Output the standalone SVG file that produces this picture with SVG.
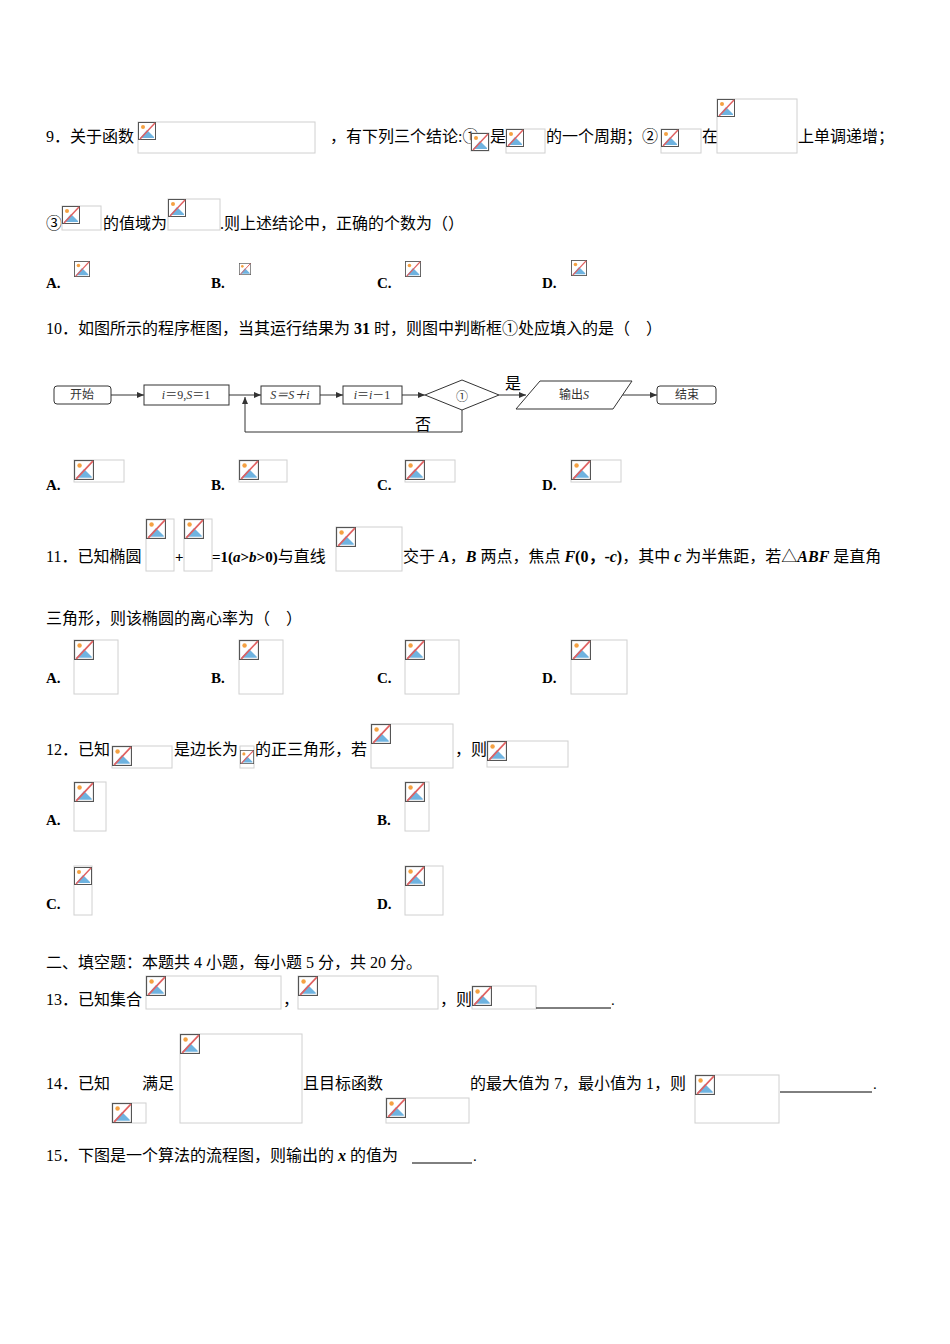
<svg xmlns="http://www.w3.org/2000/svg" xmlns:xlink="http://www.w3.org/1999/xlink" width="950" height="1344" viewBox="0 0 950 1344">
<style>
text{font-family:"Liberation Serif","Noto Sans CJK SC",serif;font-size:15px;fill:#000}
.c{font-family:"Liberation Serif","Noto Sans CJK SC",sans-serif;font-size:16px}
.b{font-weight:bold}
.box{fill:#fff;stroke:#d0d0d0;stroke-width:1}
.fl{fill:#fff;stroke:#333;stroke-width:1}
.ln{fill:none;stroke:#333;stroke-width:1}
.ft{font-family:"Liberation Serif","Noto Sans CJK SC",serif;font-size:12px;fill:#333}
</style>
<defs>
<symbol id="ic" viewBox="0 0 18 18">
<rect x="0.5" y="0.5" width="17" height="17" fill="#fff" stroke="#555"/>
<path d="M2 16 L9 8 L16 15 V16 Z" fill="#6fb3e0"/>
<circle cx="5" cy="5" r="2" fill="#f5a142"/>
<line x1="2" y1="17" x2="17" y2="1" stroke="#e06060" stroke-width="1.5"/>
</symbol>
<marker id="ar" markerWidth="8" markerHeight="8" refX="7" refY="3" orient="auto"><path d="M0 0 L7 3 L0 6Z" fill="#333"/></marker>
</defs>
<g id="q9">
<text x="46" y="142" class="c">9．关于函数</text>
<rect class="box" x="138" y="122" width="177" height="31"/><use href="#ic" x="138" y="122" width="18" height="18"/>
<text x="330" y="142" class="c">，有下列三个结论:①</text>
<rect class="box" x="471" y="133" width="18" height="18"/><use href="#ic" x="471" y="133" width="18" height="18"/>
<text x="490" y="142" class="c">是</text>
<rect class="box" x="506" y="129" width="39" height="24"/><use href="#ic" x="506" y="129" width="18" height="18"/>
<text x="546" y="142" class="c">的一个周期；②</text>
<rect class="box" x="661" y="129" width="40" height="24"/><use href="#ic" x="661" y="129" width="18" height="18"/>
<text x="702" y="142" class="c">在</text>
<rect class="box" x="717" y="99" width="80" height="54"/><use href="#ic" x="717" y="99" width="18" height="18"/>
<text x="798" y="142" class="c">上单调递增；</text>
<text x="46" y="229" class="c">③</text>
<rect class="box" x="62" y="206" width="39" height="24"/><use href="#ic" x="62" y="206" width="18" height="18"/>
<text x="103" y="229" class="c">的值域为</text>
<rect class="box" x="168" y="199" width="52" height="31"/><use href="#ic" x="168" y="199" width="18" height="18"/>
<text x="220" y="229" class="c">.则上述结论中，正确的个数为（）</text>
<text x="46" y="288" class="b">A.</text><use href="#ic" x="74" y="260" width="16" height="18"/>
<text x="211" y="288" class="b">B.</text><use href="#ic" x="239" y="260" width="12" height="18"/>
<text x="377" y="288" class="b">C.</text><use href="#ic" x="405" y="260" width="16" height="18"/>
<text x="542" y="288" class="b">D.</text><use href="#ic" x="571" y="258" width="16" height="20"/>
</g>
<g id="q10">
<text x="46" y="334" class="c">10．如图所示的程序框图，当其运行结果为 <tspan class="b">31</tspan> 时，则图中判断框①处应填入的是（　）</text>
</g>
<g id="connectors">
<line class="ln" x1="111" y1="395" x2="144" y2="395" marker-end="url(#ar)"/>
<line class="ln" x1="229" y1="395" x2="261" y2="395" marker-end="url(#ar)"/>
<line class="ln" x1="320" y1="395" x2="343" y2="395" marker-end="url(#ar)"/>
<line class="ln" x1="402" y1="395" x2="425" y2="395" marker-end="url(#ar)"/>
<line class="ln" x1="499" y1="395" x2="526" y2="395" marker-end="url(#ar)"/>
<line class="ln" x1="620" y1="395" x2="657" y2="395" marker-end="url(#ar)"/>
<polyline class="ln" points="462,410 462,432 245,432 245,397" marker-end="url(#ar)"/>
</g>
<g id="n-start"><rect class="fl" x="54" y="386" width="57" height="18" rx="3"/><text class="ft" x="82" y="399" text-anchor="middle">开始</text></g>
<g id="n-init"><rect class="fl" x="144" y="385" width="85" height="20"/><text class="ft" x="186" y="399" text-anchor="middle"><tspan font-style="italic">i</tspan>＝9,<tspan font-style="italic">S</tspan>＝1</text></g>
<g id="n-sum"><rect class="fl" x="261" y="386" width="59" height="18"/><text class="ft" x="290" y="399" text-anchor="middle" font-style="italic">S＝S＋i</text></g>
<g id="n-dec"><rect class="fl" x="343" y="386" width="59" height="18"/><text class="ft" x="372" y="399" text-anchor="middle"><tspan font-style="italic">i</tspan>＝<tspan font-style="italic">i</tspan>－1</text></g>
<g id="n-cond"><polygon class="fl" points="425,395 462,380 499,395 462,410"/><text class="ft" x="462" y="401" text-anchor="middle" font-size="16">①</text></g>
<g id="n-out"><polygon class="fl" points="540,381 632,381 613,409 516,409"/><text class="ft" x="574" y="399" text-anchor="middle" font-size="13">输出<tspan font-style="italic">S</tspan></text></g>
<g id="n-end"><rect class="fl" x="657" y="386" width="59" height="18" rx="3"/><text class="ft" x="687" y="399" text-anchor="middle" font-size="13">结束</text></g>
<text x="505" y="389" class="c" font-size="17">是</text>
<text x="415" y="430" class="c" font-size="17">否</text>
<g id="q10opt">
<text x="46" y="490" class="b">A.</text><rect class="box" x="74" y="460" width="50" height="22"/><use href="#ic" x="74" y="460" width="20" height="20"/>
<text x="211" y="490" class="b">B.</text><rect class="box" x="239" y="460" width="48" height="22"/><use href="#ic" x="239" y="460" width="20" height="20"/>
<text x="377" y="490" class="b">C.</text><rect class="box" x="405" y="460" width="50" height="22"/><use href="#ic" x="405" y="460" width="20" height="20"/>
<text x="542" y="490" class="b">D.</text><rect class="box" x="571" y="460" width="50" height="22"/><use href="#ic" x="571" y="460" width="20" height="20"/>
</g>
<g id="q11">
<text x="46" y="562" class="c">11．已知椭圆</text>
<rect class="box" x="146" y="519" width="28" height="52"/><use href="#ic" x="146" y="519" width="20" height="20"/>
<text x="175" y="562" class="b">+</text>
<rect class="box" x="184" y="519" width="28" height="52"/><use href="#ic" x="184" y="519" width="20" height="20"/>
<text x="212" y="562" class="b">=1(<tspan font-style="italic">a</tspan>&gt;<tspan font-style="italic">b</tspan>&gt;0)<tspan class="c" font-weight="normal">与直线</tspan></text>
<rect class="box" x="336" y="527" width="66" height="44"/><use href="#ic" x="336" y="527" width="20" height="20"/>
<text x="403" y="562" class="c">交于 <tspan class="b" font-style="italic">A</tspan>，<tspan class="b" font-style="italic">B</tspan> 两点，焦点 <tspan class="b"><tspan font-style="italic">F</tspan>(0，-<tspan font-style="italic">c</tspan>)</tspan>，其中 <tspan class="b" font-style="italic">c</tspan> 为半焦距，若△<tspan class="b" font-style="italic">ABF</tspan> 是直角</text>
<text x="46" y="624" class="c">三角形，则该椭圆的离心率为（　）</text>
<text x="46" y="683" class="b">A.</text><rect class="box" x="74" y="640" width="44" height="54"/><use href="#ic" x="74" y="640" width="20" height="20"/>
<text x="211" y="683" class="b">B.</text><rect class="box" x="239" y="640" width="44" height="54"/><use href="#ic" x="239" y="640" width="20" height="20"/>
<text x="377" y="683" class="b">C.</text><rect class="box" x="405" y="640" width="54" height="54"/><use href="#ic" x="405" y="640" width="20" height="20"/>
<text x="542" y="683" class="b">D.</text><rect class="box" x="571" y="640" width="56" height="54"/><use href="#ic" x="571" y="640" width="20" height="20"/>
</g>
<g id="q12">
<text x="46" y="755" class="c">12．已知</text>
<rect class="box" x="112" y="746" width="60" height="22"/><use href="#ic" x="112" y="746" width="20" height="20"/>
<text x="174" y="755" class="c">是边长为</text>
<rect class="box" x="240" y="746" width="14" height="22"/><use href="#ic" x="240" y="748" width="14" height="18"/>
<text x="255" y="755" class="c">的正三角形，若</text>
<rect class="box" x="371" y="724" width="82" height="44"/><use href="#ic" x="371" y="724" width="20" height="20"/>
<text x="455" y="755" class="c">，则</text>
<rect class="box" x="487" y="741" width="81" height="26"/><use href="#ic" x="487" y="741" width="20" height="20"/>
<text x="46" y="825" class="b">A.</text><rect class="box" x="74" y="782" width="32" height="49"/><use href="#ic" x="74" y="782" width="20" height="20"/>
<text x="377" y="825" class="b">B.</text><rect class="box" x="405" y="782" width="24" height="49"/><use href="#ic" x="405" y="782" width="20" height="20"/>
<text x="46" y="909" class="b">C.</text><rect class="box" x="74" y="866" width="18" height="49"/><use href="#ic" x="74" y="866" width="18" height="20"/>
<text x="377" y="909" class="b">D.</text><rect class="box" x="405" y="866" width="38" height="49"/><use href="#ic" x="405" y="866" width="20" height="20"/>
</g>
<text x="46" y="968" class="c">二、填空题：本题共 4 小题，每小题 5 分，共 20 分。</text>
<g id="q13">
<text x="46" y="1005" class="c">13．已知集合</text>
<rect class="box" x="146" y="976" width="135" height="33"/><use href="#ic" x="146" y="976" width="20" height="20"/>
<text x="283" y="1005" class="c">，</text>
<rect class="box" x="298" y="976" width="140" height="33"/><use href="#ic" x="298" y="976" width="20" height="20"/>
<text x="440" y="1005" class="c">，则</text>
<rect class="box" x="472" y="986" width="64" height="23"/><use href="#ic" x="472" y="986" width="20" height="20"/>
<line x1="536" y1="1008" x2="611" y2="1008" stroke="#000"/><text x="611" y="1005">.</text>
</g>
<g id="q14">
<text x="46" y="1089" class="c">14．已知　　满足</text>
<rect class="box" x="112" y="1103" width="34" height="20"/><use href="#ic" x="112" y="1103" width="20" height="20"/>
<rect class="box" x="180" y="1034" width="122" height="89"/><use href="#ic" x="180" y="1034" width="20" height="20"/>
<text x="303" y="1089" class="c">且目标函数</text>
<rect class="box" x="386" y="1098" width="83" height="25"/><use href="#ic" x="386" y="1098" width="20" height="20"/>
<text x="470" y="1089" class="c">的最大值为 7，最小值为 1，则</text>
<rect class="box" x="695" y="1075" width="84" height="48"/><use href="#ic" x="695" y="1075" width="20" height="20"/>
<line x1="780" y1="1092" x2="872" y2="1092" stroke="#000"/><text x="873" y="1089">.</text>
</g>
<g id="q15">
<text x="46" y="1161" class="c">15．下图是一个算法的流程图，则输出的 <tspan font-style="italic" class="b">x</tspan> 的值为</text>
<line x1="412" y1="1163" x2="472" y2="1163" stroke="#000"/><text x="473" y="1161">.</text>
</g>
</svg>
